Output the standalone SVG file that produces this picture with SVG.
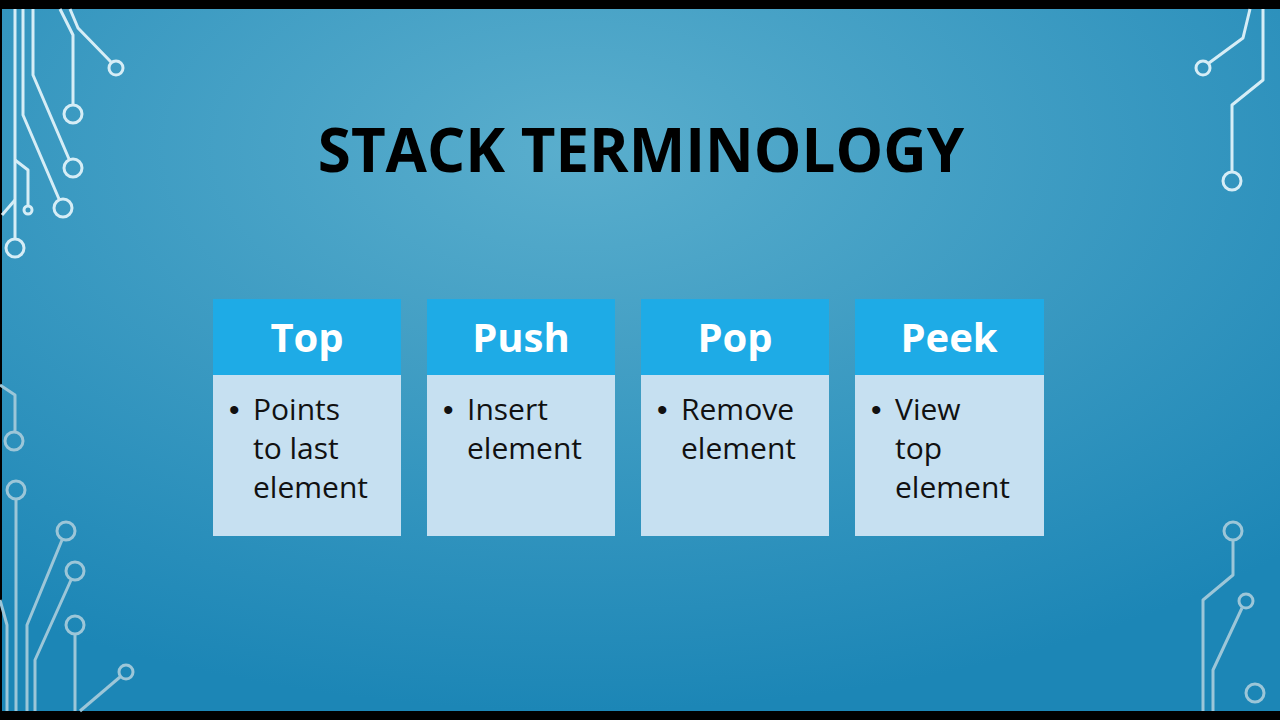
<svg xmlns="http://www.w3.org/2000/svg" width="1280" height="720" viewBox="0 0 1280 720">
<defs>
<radialGradient id="bg" cx="0.45" cy="0.2" r="0.8">
<stop offset="0" stop-color="#5aaecd"/>
<stop offset="1" stop-color="#1c86b6"/>
</radialGradient>
<style>
.c{fill:none;stroke:#d6edf6;stroke-width:3;stroke-linejoin:round}
.cd{fill:none;stroke:#9cc6d8;stroke-width:3;stroke-linejoin:round}
.h{fill:#1eabe6}
.b{fill:#c6e0f1}
.ht{font-family:"Open Sans","Liberation Sans",sans-serif;font-weight:bold;font-size:40px;fill:#fff;text-anchor:middle}
.bt{font-family:"Open Sans","Liberation Sans",sans-serif;font-size:30px;fill:#111}
.bu{font-family:"Liberation Sans",sans-serif;font-size:30px;fill:#111}
</style>
</defs>
<rect width="1280" height="720" fill="#000"/>
<rect x="2" y="9" width="1278" height="702" fill="url(#bg)"/>
<g id="circuits">
<path class="c" d="M15 9V239"/><circle class="c" cx="15" cy="248" r="9"/>
<path class="c" d="M23 9V115L59 199"/><circle class="c" cx="63" cy="208" r="9"/>
<path class="c" d="M33 9V75L69 159"/><circle class="c" cx="73" cy="168" r="9"/>
<path class="c" d="M60 9L73 35V105"/><circle class="c" cx="73" cy="114" r="9"/>
<path class="c" d="M70 9L78 28L111 62"/><circle class="c" cx="116" cy="68" r="7"/>
<path class="c" d="M15 160L28 170V206"/><circle class="c" cx="28" cy="210" r="4"/>
<path class="c" d="M2 215L15 200"/>
<path class="cd" d="M0 385L15 395V432"/><circle class="cd" cx="14" cy="441" r="9"/>
<circle class="cd" cx="16" cy="490" r="9"/><path class="cd" d="M16 499V711"/>
<circle class="cd" cx="66" cy="531" r="9"/><path class="cd" d="M62 540L27 625V711"/>
<circle class="cd" cx="75" cy="571" r="9"/><path class="cd" d="M71 580L35 660V711"/>
<circle class="cd" cx="75" cy="625" r="9"/><path class="cd" d="M75 634V711"/>
<circle class="cd" cx="126" cy="672" r="7"/><path class="cd" d="M120 677L80 711"/>
<path class="cd" d="M0 600L7 625V711"/>
<circle class="c" cx="1203" cy="68" r="7"/><path class="c" d="M1209 63L1243 38L1250 9"/>
<path class="c" d="M1263 9V80L1232 105V172"/><circle class="c" cx="1232" cy="181" r="9"/>
<circle class="cd" cx="1233" cy="531" r="9"/><path class="cd" d="M1233 540V575L1203 600V711"/>
<circle class="cd" cx="1246" cy="601" r="7"/><path class="cd" d="M1242 608L1213 670V711"/>
<circle class="cd" cx="1255" cy="693" r="9"/>
</g>
<text x="641" y="172" text-anchor="middle" font-family="'Open Sans','Liberation Sans',sans-serif" font-weight="bold" font-size="60" fill="#000">STACK TERMINOLOGY</text>
<g id="top">
<rect class="h" x="213" y="299" width="188" height="76"/><rect class="b" x="213" y="375" width="188" height="161"/>
<text class="ht" x="307" y="352">Top</text>
<text class="bu" x="229" y="420">•</text><text class="bt" x="253" y="420">Points</text><text class="bt" x="253" y="459">to last</text><text class="bt" x="253" y="498">element</text>
</g>
<g id="push">
<rect class="h" x="427" y="299" width="188" height="76"/><rect class="b" x="427" y="375" width="188" height="161"/>
<text class="ht" x="521" y="352">Push</text>
<text class="bu" x="443" y="420">•</text><text class="bt" x="467" y="420">Insert</text><text class="bt" x="467" y="459">element</text>
</g>
<g id="pop">
<rect class="h" x="641" y="299" width="188" height="76"/><rect class="b" x="641" y="375" width="188" height="161"/>
<text class="ht" x="735" y="352">Pop</text>
<text class="bu" x="657" y="420">•</text><text class="bt" x="681" y="420">Remove</text><text class="bt" x="681" y="459">element</text>
</g>
<g id="peek">
<rect class="h" x="855" y="299" width="189" height="76"/><rect class="b" x="855" y="375" width="189" height="161"/>
<text class="ht" x="949" y="352">Peek</text>
<text class="bu" x="871" y="420">•</text><text class="bt" x="895" y="420">View</text><text class="bt" x="895" y="459">top</text><text class="bt" x="895" y="498">element</text>
</g>
<g id="connectors"/>
</svg>
